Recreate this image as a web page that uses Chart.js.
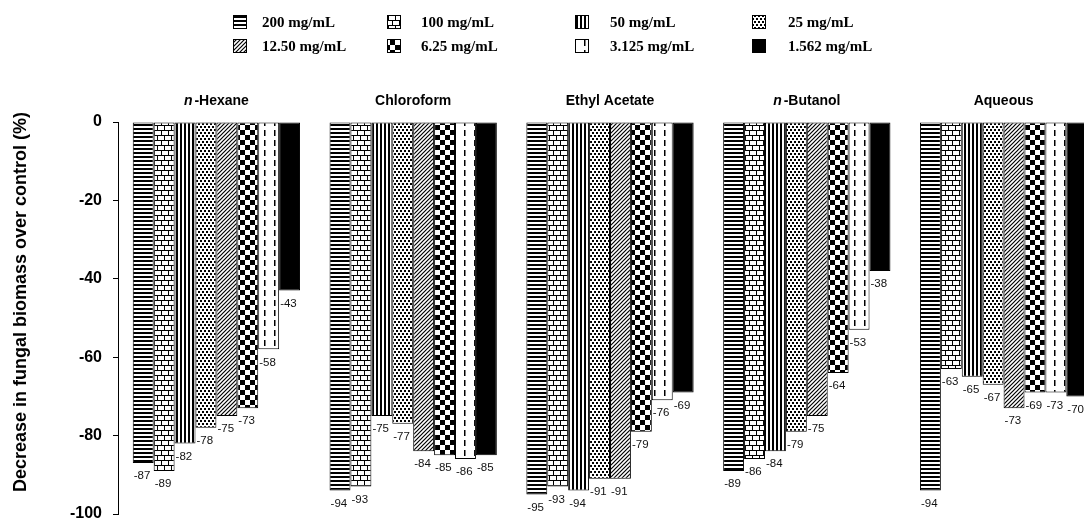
<!DOCTYPE html>
<html>
<head>
<meta charset="utf-8">
<script src="https://cdn.jsdelivr.net/npm/chart.js@4.4.0/dist/chart.umd.min.js"></script>
<style>
  html, body { margin: 0; padding: 0; background: #fff; overflow: hidden; }
  #wrap { width: 1084px; height: 518px; overflow: hidden; }
</style>
</head>
<body>
<div id="wrap"><canvas id="chart" width="1102" height="535"></canvas></div>
<script>
// extract groups (x categories)
const groups = ['n-Hexane', 'Chloroform', 'Ethyl Acetate', 'n-Butanol', 'Aqueous'];
const concentrations = ['200 mg/mL', '100 mg/mL', '50 mg/mL', '25 mg/mL',
                        '12.50 mg/mL', '6.25 mg/mL', '3.125 mg/mL', '1.562 mg/mL'];

// bar heights as drawn (% decrease)
const c200   = [-87, -94, -95, -89, -94];
const c100   = [-89, -93, -93, -86, -63];
const c50    = [-82, -75, -94, -84, -65];
const c25    = [-78, -77, -91, -79, -67];
const c12_50 = [-75, -84, -91, -75, -73];
const c6_25  = [-73, -85, -79, -64, -69];
const c3_125 = [-58, -86, -71, -53, -69];
const c1_562 = [-43, -85, -69, -38, -70];

// printed labels under the 3.125 bars differ from the drawn height in two groups
const c3_125Labels = [-58, -86, -76, -53, -73];

const yTicks = [0, -20, -40, -60, -80, -100];

const series = [c200, c100, c50, c25, c12_50, c6_25, c3_125, c1_562];

function tile(w, h, draw) {
  const c = document.createElement('canvas');
  c.width = w; c.height = h;
  const g = c.getContext('2d');
  g.fillStyle = '#fff';
  g.fillRect(0, 0, w, h);
  g.fillStyle = '#000';
  g.strokeStyle = '#000';
  draw(g);
  return c.getContext('2d').createPattern(c, 'repeat');
}

function makePatterns() {
  return [
    // horizontal lines
    tile(4, 4, g => { g.fillRect(0, 0, 4, 2); }),
    // bricks
    tile(14, 10, g => {
      g.fillRect(0, 0, 14, 1);
      g.fillRect(0, 5, 14, 1);
      g.fillRect(0, 0, 1, 5);
      g.fillRect(7, 0, 1, 5);
      g.fillRect(3, 5, 1, 5);
      g.fillRect(10, 5, 1, 5);
    }),
    // vertical lines
    tile(4, 4, g => { g.fillRect(0, 0, 2, 4); }),
    // dots
    tile(4, 6, g => {
      g.fillRect(0, 0, 2, 2);
      g.fillRect(2, 3, 2, 2);
    }),
    // diagonal hatch
    tile(4, 4, g => {
      g.lineWidth = 1.2;
      g.beginPath();
      g.moveTo(-1, 5); g.lineTo(5, -1);
      g.moveTo(-1, 1); g.lineTo(1, -1);
      g.moveTo(3, 5); g.lineTo(5, 3);
      g.stroke();
    }),
    // checkerboard
    tile(10, 10, g => {
      g.fillRect(0, 0, 5, 5);
      g.fillRect(5, 5, 5, 5);
    }),
    // dashed vertical lines
    tile(10, 10, g => {
      g.fillRect(4, 0, 1.5, 6);
    }),
    // solid
    '#000'
  ];
}

const patterns = makePatterns();

const datasets = concentrations.map((c, i) => ({
  label: c,
  data: series[i],
  backgroundColor: patterns[i],
  borderColor: '#000',
  borderWidth: 1,
  borderSkipped: false
}));

const extras = {
  id: 'extras',
  afterDatasetsDraw(chart) {
    const ctx = chart.ctx;
    const xs = chart.scales.x;
    const area = chart.chartArea;
    ctx.save();

    // value labels under each bar
    ctx.font = '11.5px Arial';
    ctx.fillStyle = '#111';
    ctx.textAlign = 'left';
    ctx.textBaseline = 'middle';
    chart.data.datasets.forEach((ds, i) => {
      const meta = chart.getDatasetMeta(i);
      meta.data.forEach((bar, j) => {
        const txt = i === 6 ? c3_125Labels[j] : ds.data[j];
        ctx.fillText(String(txt), bar.x - bar.width / 2 + 1, bar.y + 13);
      });
    });

    // group titles
    ctx.textBaseline = 'middle';
    ctx.fillStyle = '#000';
    groups.forEach((name, j) => {
      const cx = xs.getPixelForValue(j);
      const y = area.top - 21;
      if (name.startsWith('n-')) {
        ctx.font = 'italic bold 14px Arial';
        const w1 = ctx.measureText('n').width + 2;
        ctx.font = 'bold 14px Arial';
        const rest = name.slice(1);
        const w2 = ctx.measureText(rest).width;
        const x = cx - (w1 + w2) / 2;
        ctx.textAlign = 'left';
        ctx.font = 'italic bold 14px Arial';
        ctx.fillText('n', x, y);
        ctx.font = 'bold 14px Arial';
        ctx.fillText(rest, x + w1, y);
      } else {
        ctx.font = 'bold 14px Arial';
        ctx.textAlign = 'center';
        ctx.fillText(name, cx, y);
      }
    });

    // y axis title
    ctx.save();
    ctx.translate(21, 302);
    ctx.rotate(-Math.PI / 2);
    ctx.font = 'bold 18px Arial';
    ctx.textAlign = 'center';
    ctx.textBaseline = 'middle';
    ctx.fillText('Decrease in fungal biomass over control (%)', 0, 0);
    ctx.restore();

    // legend, 4 columns x 2 rows
    const colBox = [233, 387, 575, 752];
    const colText = [262, 421, 610, 788];
    const rowY = [22, 46];
    ctx.font = 'bold 15px "Liberation Serif", "Times New Roman", serif';
    ctx.textAlign = 'left';
    ctx.textBaseline = 'middle';
    concentrations.forEach((c, i) => {
      const col = i % 4, row = Math.floor(i / 4);
      const bx = colBox[col], by = rowY[row] - 7;
      ctx.fillStyle = patterns[i];
      ctx.fillRect(bx, by, 14, 14);
      ctx.strokeStyle = '#000';
      ctx.lineWidth = 1;
      ctx.strokeRect(bx + 0.5, by + 0.5, 13, 13);
      ctx.fillStyle = '#000';
      ctx.fillText(c, colText[col], rowY[row] + 1);
    });

    ctx.restore();
  }
};

new Chart(document.getElementById('chart'), {
  type: 'bar',
  data: { labels: groups, datasets: datasets },
  options: {
    responsive: false,
    animation: false,
    devicePixelRatio: 1,
    layout: { padding: { top: 122, bottom: 21, left: 0, right: 0 } },
    datasets: { bar: { barPercentage: 1, categoryPercentage: 0.85 } },
    plugins: { legend: { display: false }, tooltip: { enabled: false } },
    scales: {
      x: { display: false },
      y: {
        min: -100,
        max: 0,
        afterFit(scale) { scale.width = 118; },
        afterBuildTicks(scale) { scale.ticks = yTicks.map(v => ({ value: v })); },
        ticks: {
          color: '#000',
          padding: 11,
          font: { family: 'Arial', size: 16, weight: 'bold' }
        },
        grid: { drawOnChartArea: false, drawTicks: true, tickLength: 5, color: '#000' },
        border: { display: true, color: '#000', width: 1 }
      }
    }
  },
  plugins: [extras]
});
</script>
</body>
</html>
